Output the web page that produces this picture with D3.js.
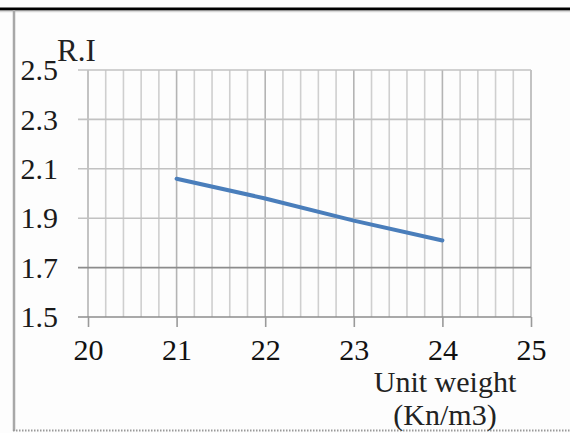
<!DOCTYPE html>
<html>
<head>
<meta charset="utf-8">
<script src="https://cdn.jsdelivr.net/npm/d3@7/dist/d3.min.js"></script>
<style>
  html, body { margin: 0; padding: 0; background: #fdfdfd; }
  svg { display: block; }
</style>
</head>
<body>
<svg id="chart" width="570" height="433"></svg>
<script>
// Unit weight (Kn/m3) against R.I
const unitWeight = [21, 22, 23, 24];
const riValues = [2.06, 1.98, 1.89, 1.81];
const xTicks = [20, 21, 22, 23, 24, 25];
const yTicks = [1.5, 1.7, 1.9, 2.1, 2.3, 2.5];
const xMinorStep = 0.2;

const SERIF = '"Liberation Serif", "Times New Roman", serif';
const svg = d3.select("#chart");
const W = 570, H = 433;

const x = d3.scaleLinear().domain([20, 25]).range([88, 531]);
const y = d3.scaleLinear().domain([1.5, 2.5]).range([317, 70]);

// frame: heavy rule on top, grey rule on the left, dotted rule at the bottom
svg.append("line").attr("x1", 0).attr("x2", W).attr("y1", 9).attr("y2", 9)
  .attr("stroke", "#000").attr("stroke-width", 3);
svg.append("line").attr("x1", 0).attr("x2", W).attr("y1", 11.5).attr("y2", 11.5)
  .attr("stroke", "#d8d8d8").attr("stroke-width", 1.5);
svg.append("line").attr("x1", 14).attr("x2", 14).attr("y1", 10).attr("y2", 431)
  .attr("stroke", "#a8a8a8").attr("stroke-width", 2.5);
svg.append("line").attr("x1", 13).attr("x2", W).attr("y1", 430.5).attr("y2", 430.5)
  .attr("stroke", "#999").attr("stroke-width", 2).attr("stroke-dasharray", "1.5,1.5");

// vertical minor gridlines every 0.2
const minor = d3.range(20, 25 + 1e-9, xMinorStep).map(v => +v.toFixed(1));
svg.append("g").selectAll("line").data(minor).join("line")
  .attr("x1", d => x(d)).attr("x2", d => x(d))
  .attr("y1", y(2.5)).attr("y2", y(1.5))
  .attr("stroke", d => Number.isInteger(d) ? "#b4b4b4" : "#cfcfcf")
  .attr("stroke-width", 1.6);

// horizontal gridlines with outward ticks on the left
svg.append("g").selectAll("line").data(yTicks).join("line")
  .attr("x1", 78).attr("x2", x(25))
  .attr("y1", d => y(d)).attr("y2", d => y(d))
  .attr("stroke", d => d <= 1.7 ? "#8c8c8c" : "#c2c2c2")
  .attr("stroke-width", 1.6);

// x axis with outward ticks
const xAxis = d3.axisBottom(x).tickValues(xTicks).tickSize(10).tickPadding(12)
  .tickFormat(d3.format("d"));
const gx = svg.append("g").attr("transform", `translate(0,${y(1.5)})`).call(xAxis);
gx.select(".domain").remove();
gx.selectAll(".tick line").attr("stroke", "#9a9a9a").attr("stroke-width", 1.6);
gx.selectAll(".tick text")
  .style("font-family", SERIF).style("font-size", "30px").style("fill", "#111");

// y tick labels
const yAxis = d3.axisLeft(y).tickValues(yTicks).tickSize(0).tickPadding(30)
  .tickFormat(d3.format(".1f"));
const gy = svg.append("g").attr("transform", `translate(${x(20)},0)`).call(yAxis);
gy.select(".domain").remove();
gy.selectAll(".tick text")
  .style("font-family", SERIF).style("font-size", "30px").style("fill", "#1a1a1a");

// series line
const line = d3.line().x((d, i) => x(unitWeight[i])).y(d => y(d));
svg.append("path").datum(riValues)
  .attr("d", line)
  .attr("fill", "none")
  .attr("stroke", "#4a7ebb")
  .attr("stroke-width", 4)
  .attr("stroke-linecap", "round");

// axis titles
function title(tx, ty, anchor, str, size) {
  svg.append("text").attr("x", tx).attr("y", ty).attr("text-anchor", anchor)
    .style("font-family", SERIF).style("font-size", size + "px").style("fill", "#222")
    .text(str);
}
title(57, 61, "start", "R.I", 31);
title(445, 392, "middle", "Unit weight", 30);
title(445, 425, "middle", "(Kn/m3)", 30);
</script>
</body>
</html>
